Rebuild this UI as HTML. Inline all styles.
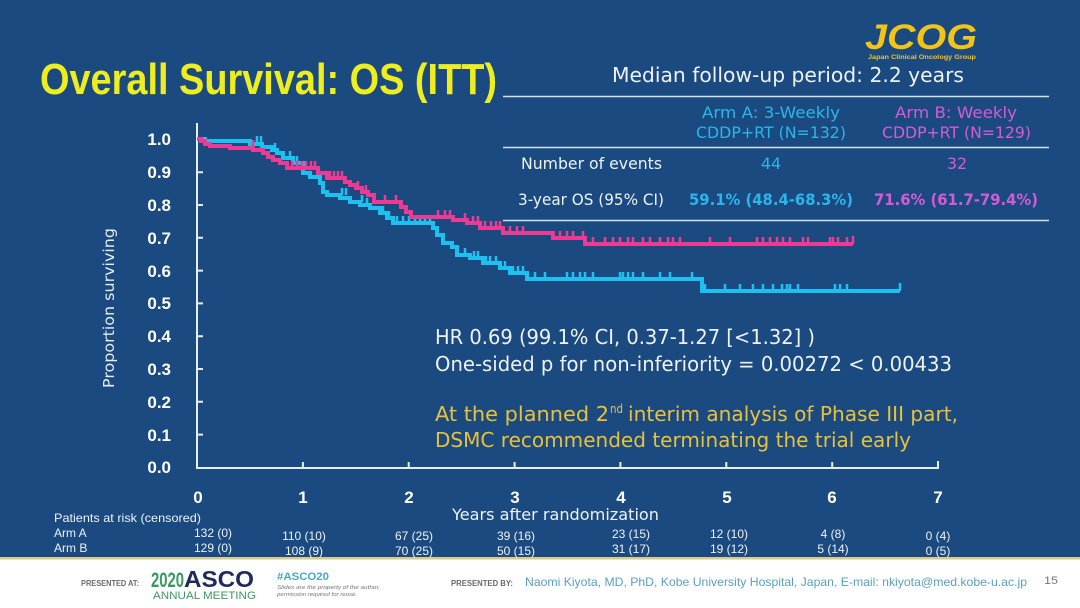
<!DOCTYPE html>
<html>
<head>
<meta charset="utf-8">
<style>
html,body{margin:0;padding:0;background:#fff;}
svg{display:block;}
text{font-family:"Liberation Sans",Arial,sans-serif;}
.dv{font-family:"DejaVu Sans","Liberation Sans",sans-serif;}
</style>
</head>
<body>
<svg width="1080" height="608" viewBox="0 0 1080 608" xmlns="http://www.w3.org/2000/svg">
  <!-- backgrounds -->
  <rect x="0" y="0" width="1080" height="558" fill="#1b4a80"/>
  <rect x="0" y="557" width="1080" height="2.5" fill="#d9c98a"/>
  <rect x="0" y="559.5" width="1080" height="48.5" fill="#ffffff"/>

  <!-- Title -->
  <text x="40" y="94" font-size="44" font-weight="bold" fill="#eeee1e" textLength="457" lengthAdjust="spacingAndGlyphs">Overall Survival: OS (ITT)</text>

  <!-- JCOG logo -->
  <text x="865" y="49" font-size="35" font-weight="bold" font-style="italic" fill="#f2c418" textLength="112" lengthAdjust="spacingAndGlyphs">JCOG</text>
  <text x="868" y="59" font-size="6" font-weight="bold" fill="#f2c418" textLength="108" lengthAdjust="spacingAndGlyphs">Japan Clinical Oncology Group</text>

  <!-- Table -->
  <text class="dv" x="612" y="82" font-size="20" fill="#eef2f8" textLength="352" lengthAdjust="spacingAndGlyphs">Median follow-up period: 2.2 years</text>
  <g stroke="#d4e0ee" stroke-width="1.5">
    <line x1="503" y1="96.5" x2="1049" y2="96.5"/>
    <line x1="503" y1="147.5" x2="1049" y2="147.5"/>
    <line x1="503" y1="220.5" x2="1049" y2="220.5"/>
  </g>
  <text class="dv" x="702" y="118" font-size="16" fill="#2ab6ea" textLength="138" lengthAdjust="spacingAndGlyphs">Arm A: 3-Weekly</text>
  <text class="dv" x="696" y="138" font-size="16" fill="#2ab6ea" textLength="150" lengthAdjust="spacingAndGlyphs">CDDP+RT (N=132)</text>
  <text class="dv" x="895" y="118" font-size="16" fill="#d65ad6" textLength="122" lengthAdjust="spacingAndGlyphs">Arm B: Weekly</text>
  <text class="dv" x="882" y="138" font-size="16" fill="#d65ad6" textLength="149" lengthAdjust="spacingAndGlyphs">CDDP+RT (N=129)</text>

  <text class="dv" x="521" y="169" font-size="16" fill="#eef2f8" textLength="141" lengthAdjust="spacingAndGlyphs">Number of events</text>
  <text class="dv" x="771" y="169" font-size="16" fill="#2ab6ea" text-anchor="middle">44</text>
  <text class="dv" x="957" y="169" font-size="16" fill="#d65ad6" text-anchor="middle">32</text>

  <text class="dv" x="518" y="205" font-size="16" fill="#eef2f8" textLength="146" lengthAdjust="spacingAndGlyphs">3-year OS (95% CI)</text>
  <text class="dv" x="689" y="205" font-size="16" font-weight="bold" fill="#2ab6ea" textLength="164" lengthAdjust="spacingAndGlyphs">59.1% (48.4-68.3%)</text>
  <text class="dv" x="874" y="205" font-size="16" font-weight="bold" fill="#d65ad6" textLength="164" lengthAdjust="spacingAndGlyphs">71.6% (61.7-79.4%)</text>

  <!-- Axes -->
  <g stroke="#e8eef6" stroke-width="2" fill="none">
    <line x1="197" y1="123" x2="197" y2="469"/>
    <line x1="196" y1="468" x2="939" y2="468"/>
    <path d="M197 172.2H203 M197 205H203 M197 237.8H203 M197 270.6H203 M197 303.4H203 M197 336.2H203 M197 369H203 M197 401.8H203 M197 434.6H203"/>
    <path d="M302.9 468V462 M408.7 468V462 M514.6 468V462 M620.4 468V462 M726.3 468V462 M832.2 468V462 M938 468V461"/>
  </g>

  <!-- Y labels -->
  <g font-size="17" font-weight="bold" fill="#ffffff" text-anchor="end">
    <text x="171" y="145">1.0</text>
    <text x="171" y="178">0.9</text>
    <text x="171" y="211">0.8</text>
    <text x="171" y="244">0.7</text>
    <text x="171" y="277">0.6</text>
    <text x="171" y="309">0.5</text>
    <text x="171" y="342">0.4</text>
    <text x="171" y="375">0.3</text>
    <text x="171" y="408">0.2</text>
    <text x="171" y="441">0.1</text>
    <text x="171" y="473">0.0</text>
  </g>
  <!-- X labels -->
  <g font-size="17" font-weight="bold" fill="#ffffff" text-anchor="middle">
    <text x="198" y="503">0</text>
    <text x="303" y="503">1</text>
    <text x="409" y="503">2</text>
    <text x="515" y="503">3</text>
    <text x="621" y="503">4</text>
    <text x="727" y="503">5</text>
    <text x="832" y="503">6</text>
    <text x="938" y="503">7</text>
  </g>

  <text class="dv" transform="translate(114,308) rotate(-90)" font-size="15" fill="#e8eef5" text-anchor="middle" textLength="160" lengthAdjust="spacingAndGlyphs">Proportion surviving</text>
  <text class="dv" x="452" y="520" font-size="16" fill="#eef2f8" textLength="207" lengthAdjust="spacingAndGlyphs">Years after randomization</text>

  <!-- Curves -->
  <g fill="none" stroke-width="4" stroke-linejoin="miter">
    <path stroke="#1ec0f0" d="M197,139 H205 V141 H250 V144 H262 V147 H272 V150 H277 V153 H283 V158 H293 V163 H303 V173 H310 V177 H320 V183 H323 V192 H327 V195 H340 V198 H350 V202 H360 V205 H370 V208 H380 V213 H387 V218 H393 V223 H433 V228 H437 V235 H443 V243 H452 V247 H457 V255 H470 V258 H483 V263 H500 V268 H510 V273 H527 V279 H702 V291 H900"/>
    <path stroke="#1ec0f0" stroke-width="2.5" d="M257 144v-8 M261 144v-8 M275 150v-7 M290 158v-7 M297 163v-7 M342 195v-7 M346 195v-7 M362 202v-7 M367 205v-7 M383 213v-7 M389 218v-7 M397 223v-7 M403 223v-7 M409 223v-7 M415 223v-7 M420 223v-7 M425 223v-7 M430 223v-7 M465 255v-7 M474 258v-7 M478 258v-7 M486 263v-7 M490 263v-7 M496 263v-7 M505 268v-7 M513 273v-7 M518 273v-7 M523 273v-7 M528 279v-7 M535 279v-7 M545 279v-7 M567 279v-7 M573 279v-7 M580 279v-7 M585 279v-7 M593 279v-7 M620 279v-7 M623 279v-7 M628 279v-7 M633 279v-7 M643 279v-7 M660 279v-7 M670 279v-7 M692 279v-7 M705 291v-7 M725 291v-7 M740 291v-7 M753 291v-7 M763 291v-7 M773 291v-7 M782 291v-7 M787 291v-7 M790 291v-7 M798 291v-7 M835 291v-7 M840 291v-7 M847 291v-7 M900 291v-8"/>
    <path stroke="#ee3a92" d="M197,139 H201 V141 H205 V144 H210 V146 H230 V148 H253 V150 H263 V153 H268 V157 H273 V160 H280 V163 H287 V168 H318 V173 H327 V178 H345 V182 H350 V185 H356 V188 H362 V192 H368 V195 H374 V202 H401 V207 H406 V212 H411 V217 H453 V220 H467 V223 H480 V228 H503 V233 H553 V238 H585 V244 H853"/>
    <path stroke="#ee3a92" stroke-width="2.5" d="M253 150v-10 M292 168v-7 M297 168v-7 M302 168v-7 M306 168v-7 M311 168v-7 M315 168v-7 M330 178v-7 M334 178v-7 M338 178v-7 M342 178v-7 M358 188v-7 M366 192v-7 M385 202v-7 M396 202v-7 M438 217v-7 M445 217v-7 M450 217v-7 M465 220v-7 M473 223v-7 M478 223v-7 M485 228v-7 M491 228v-7 M496 228v-7 M500 228v-7 M510 233v-7 M517 233v-7 M523 233v-7 M553 238v-7 M560 238v-7 M567 238v-7 M573 238v-7 M583 238v-7 M593 244v-7 M605 244v-7 M613 244v-7 M620 244v-7 M628 244v-7 M633 244v-7 M643 244v-7 M650 244v-7 M660 244v-7 M668 244v-7 M673 244v-7 M680 244v-7 M710 244v-7 M730 244v-7 M757 244v-7 M763 244v-7 M770 244v-7 M777 244v-7 M783 244v-7 M790 244v-7 M803 244v-7 M808 244v-7 M830 244v-7 M833 244v-7 M838 244v-7 M847 244v-7 M853 244v-8"/>
  </g>

  <!-- HR text -->
  <text class="dv" x="435" y="344" font-size="20" fill="#eef2f8" textLength="380" lengthAdjust="spacingAndGlyphs">HR 0.69 (99.1% CI, 0.37-1.27 [&lt;1.32] )</text>
  <text class="dv" x="435" y="371" font-size="20" fill="#eef2f8" textLength="517" lengthAdjust="spacingAndGlyphs">One-sided p for non-inferiority = 0.00272 &lt; 0.00433</text>
  <text class="dv" x="435" y="421" font-size="20" fill="#e8c13a" textLength="174" lengthAdjust="spacingAndGlyphs">At the planned 2</text>
  <text class="dv" x="610" y="413" font-size="12" fill="#e8c13a" textLength="13" lengthAdjust="spacingAndGlyphs">nd</text>
  <text class="dv" x="628" y="421" font-size="20" fill="#e8c13a" textLength="330" lengthAdjust="spacingAndGlyphs">interim analysis of Phase III part,</text>
  <text class="dv" x="435" y="447" font-size="20" fill="#e8c13a" textLength="476" lengthAdjust="spacingAndGlyphs">DSMC recommended terminating the trial early</text>

  <!-- At risk table -->
  <g font-size="12" fill="#eef2f8">
    <text x="54" y="522" textLength="147" lengthAdjust="spacingAndGlyphs">Patients at risk (censored)</text>
    <text x="54" y="537">Arm A</text>
    <text x="54" y="552">Arm B</text>
  </g>
  <g font-size="12" fill="#eef2f8" text-anchor="middle">
    <text x="213" y="537">132 (0)</text>
    <text x="304" y="540">110 (10)</text>
    <text x="414" y="540">67 (25)</text>
    <text x="516" y="540">39 (16)</text>
    <text x="631" y="538">23 (15)</text>
    <text x="729" y="538">12 (10)</text>
    <text x="833" y="538">4 (8)</text>
    <text x="938" y="540">0 (4)</text>

    <text x="213" y="552">129 (0)</text>
    <text x="304" y="555">108 (9)</text>
    <text x="414" y="555">70 (25)</text>
    <text x="516" y="555">50 (15)</text>
    <text x="631" y="553">31 (17)</text>
    <text x="729" y="553">19 (12)</text>
    <text x="833" y="553">5 (14)</text>
    <text x="938" y="555">0 (5)</text>
  </g>

  <!-- Footer -->
  <text x="81" y="586" font-size="8" font-weight="bold" fill="#6a6a6a" textLength="58" lengthAdjust="spacingAndGlyphs">PRESENTED AT:</text>
  <text x="151" y="587" font-size="21" font-weight="bold" fill="#3a9a62" textLength="33" lengthAdjust="spacingAndGlyphs">2020</text>
  <text x="184" y="587" font-size="23" font-weight="bold" fill="#1e2b5c" textLength="70" lengthAdjust="spacingAndGlyphs">ASCO</text>
  <text x="153" y="599" font-size="11" fill="#3a9a62" textLength="103" lengthAdjust="spacingAndGlyphs">ANNUAL MEETING</text>
  <text x="277" y="580" font-size="11" font-weight="bold" fill="#4aa8c0" textLength="52" lengthAdjust="spacingAndGlyphs">#ASCO20</text>
  <text x="277" y="589" font-size="5.5" font-style="italic" fill="#777" textLength="103" lengthAdjust="spacingAndGlyphs">Slides are the property of the author,</text>
  <text x="277" y="596" font-size="5.5" font-style="italic" fill="#777" textLength="80" lengthAdjust="spacingAndGlyphs">permission required for reuse.</text>
  <text x="451" y="586" font-size="8" font-weight="bold" fill="#6a6a6a" textLength="62" lengthAdjust="spacingAndGlyphs">PRESENTED BY:</text>
  <text x="525" y="586" font-size="12" fill="#5aa0c0" textLength="502" lengthAdjust="spacingAndGlyphs">Naomi Kiyota, MD, PhD, Kobe University Hospital, Japan, E-mail: nkiyota@med.kobe-u.ac.jp</text>
  <text x="1044" y="584" font-size="11" fill="#777" textLength="14" lengthAdjust="spacingAndGlyphs">15</text>
</svg>
</body>
</html>
